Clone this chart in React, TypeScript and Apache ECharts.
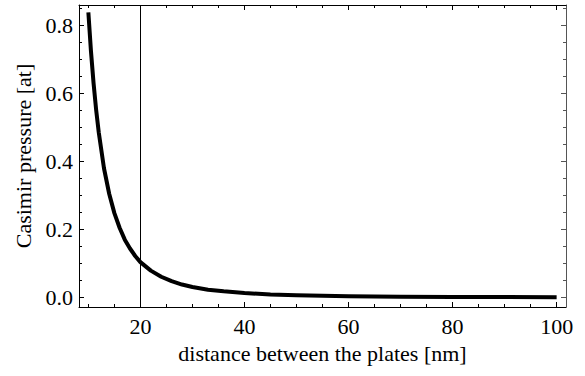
import React, { useEffect, useRef } from "react";
import * as echarts from "echarts";

// distance between the plates [nm]
const distance = [10, 10.5, 11, 11.5, 12, 13, 14, 15, 16, 17, 18, 19, 20, 22, 24, 26, 28, 30, 33, 36, 40, 45, 50, 60, 70, 80, 90, 100];
// Casimir pressure [at]
const pressure = [0.838, 0.724, 0.63, 0.551, 0.485, 0.38, 0.305, 0.248, 0.205, 0.17, 0.144, 0.122, 0.104, 0.079, 0.061, 0.048, 0.038, 0.031, 0.023, 0.018, 0.013, 0.009, 0.0067, 0.0039, 0.0025, 0.0016, 0.0012, 0.0008];

const xMajorTicks = [20, 40, 60, 80, 100];
const xMinorTicks = [10, 15, 25, 30, 35, 45, 50, 55, 65, 70, 75, 85, 90, 95];
const yMajorTicks = [0, 0.2, 0.4, 0.6, 0.8];
const yMinorTicks = [0.05, 0.1, 0.15, 0.25, 0.3, 0.35, 0.45, 0.5, 0.55, 0.65, 0.7, 0.75, 0.85];
const markerDistance = 20;

const X_MIN = 8.2;
const X_MAX = 101.8;
const Y_MIN = -0.028;
const Y_MAX = 0.86;

const FONT = "Liberation Serif";
const FS = 22;

export default function App() {
  const ref = useRef<HTMLDivElement>(null);

  useEffect(() => {
    if (!ref.current) return;
    document.body.style.margin = "0";
    const chart = echarts.init(ref.current, undefined, { renderer: "svg" });

    const xBase = (position: "bottom" | "top", ticks: number[], len: number, showLine: boolean, labels: boolean, extra: any = {}) => ({
      type: "value",
      position,
      min: X_MIN,
      max: X_MAX,
      gridIndex: 0,
      axisLine: { show: showLine, onZero: false, lineStyle: { color: "#000", width: 1 } },
      axisTick: { show: true, inside: true, length: len, customValues: ticks, lineStyle: { color: "#000", width: 1 } },
      axisLabel: labels
        ? { show: true, customValues: ticks, color: "#000", fontFamily: FONT, fontSize: FS, margin: 8 }
        : { show: false },
      splitLine: { show: false },
      ...extra,
    });

    const yBase = (position: "left" | "right", ticks: number[], len: number, showLine: boolean, labels: boolean, lineColor: string, extra: any = {}) => ({
      type: "value",
      position,
      min: Y_MIN,
      max: Y_MAX,
      gridIndex: 0,
      axisLine: { show: showLine, onZero: false, lineStyle: { color: lineColor, width: 1 } },
      axisTick: { show: true, inside: true, length: len, customValues: ticks, lineStyle: { color: lineColor, width: 1 } },
      axisLabel: labels
        ? {
            show: true,
            customValues: ticks,
            color: "#000",
            fontFamily: FONT,
            fontSize: FS,
            margin: 6,
            formatter: (v: number) => v.toFixed(1),
          }
        : { show: false },
      splitLine: { show: false },
      ...extra,
    });

    const data = distance.map((d, i) => [d, pressure[i]]);

    chart.setOption({
      animation: false,
      backgroundColor: "#fff",
      textStyle: { fontFamily: FONT },
      grid: { left: 79, right: 19, top: 5, bottom: 69, containLabel: false },
      xAxis: [
        xBase("bottom", xMajorTicks, 5, true, true, {
          name: "distance between the plates [nm]",
          nameLocation: "middle",
          nameGap: 35,
          nameTextStyle: { color: "#000", fontFamily: FONT, fontSize: FS },
        }),
        xBase("bottom", xMinorTicks, 3, false, false),
        xBase("top", xMajorTicks, 5, true, false),
        xBase("top", xMinorTicks, 3, false, false),
      ],
      yAxis: [
        yBase("left", yMajorTicks, 5, true, true, "#000", {
          name: "Casimir pressure [at]",
          nameLocation: "middle",
          nameGap: 42,
          nameTextStyle: { color: "#000", fontFamily: FONT, fontSize: FS },
        }),
        yBase("left", yMinorTicks, 3, false, false, "#000"),
        yBase("right", yMajorTicks, 5, true, false, "#555"),
        yBase("right", yMinorTicks, 3, false, false, "#555"),
      ],
      series: [
        {
          type: "line",
          xAxisIndex: 0,
          yAxisIndex: 0,
          data,
          showSymbol: false,
          symbol: "none",
          smooth: false,
          lineStyle: { color: "#000", width: 4, cap: "butt", join: "round" },
          markLine: {
            silent: true,
            symbol: "none",
            label: { show: false },
            lineStyle: { color: "#000", width: 1, type: "solid" },
            data: [{ xAxis: markerDistance }],
          },
          z: 3,
        },
      ],
    });

    return () => chart.dispose();
  }, []);

  return <div ref={ref} style={{ width: 585, height: 376 }} />;
}
